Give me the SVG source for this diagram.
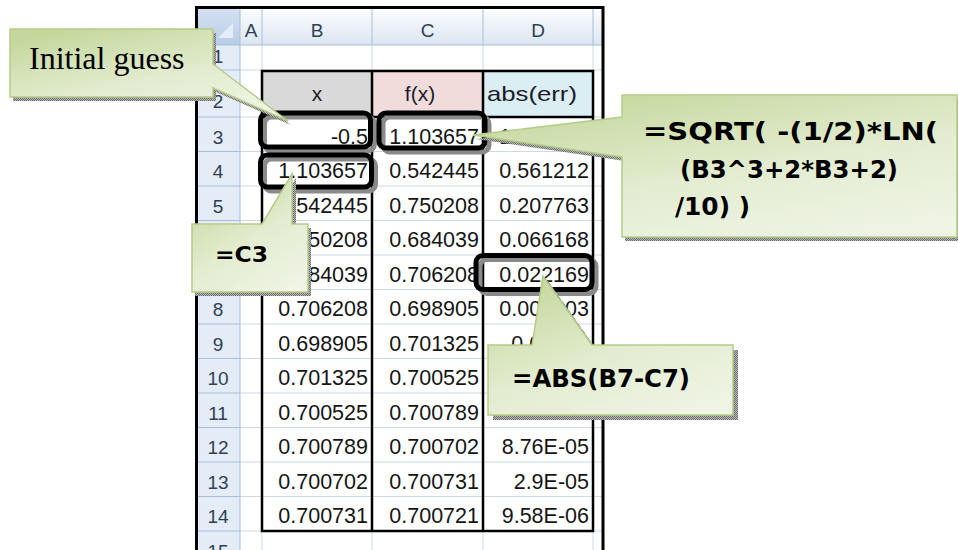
<svg xmlns="http://www.w3.org/2000/svg" width="958" height="550" viewBox="0 0 958 550">
<style>
.col{font-family:"Liberation Sans",Arial,sans-serif;font-size:19px;fill:#2f3f55;text-anchor:middle}
.rn{font-family:"Liberation Sans",Arial,sans-serif;font-size:19px;fill:#2f3f55;text-anchor:middle}
.cell{font-family:"Liberation Sans",Arial,sans-serif;font-size:21.5px;fill:#151515;text-anchor:end}
.hd{font-family:"Liberation Sans",Arial,sans-serif;font-size:21px;fill:#1d1d2b;text-anchor:middle}
.grid{stroke:#d0d7e5;stroke-width:1}
.hgrid{stroke:#a9bed8;stroke-width:1}
.hl{fill:none;stroke:#000;stroke-width:5}
.hls{fill:none;stroke:#8a8a8a;stroke-width:5}
.co{fill:url(#cg);stroke:#b5cc87;stroke-width:1.5}
.cos{fill:url(#hatch)}
.ct{font-family:"DejaVu Sans",Verdana,sans-serif;font-weight:bold;fill:#000}
</style>
<defs>
<linearGradient id="hg" x1="0" y1="0" x2="0" y2="1"><stop offset="0" stop-color="#fbfdfe"/><stop offset="1" stop-color="#dbe5f1"/></linearGradient>
<linearGradient id="cornerg" x1="0" y1="0" x2="0" y2="1"><stop offset="0" stop-color="#d3e0f1"/><stop offset="1" stop-color="#b9cce7"/></linearGradient>
<linearGradient id="cg" x1="0.2" y1="0" x2="0.8" y2="1"><stop offset="0" stop-color="#c4d79c"/><stop offset="0.55" stop-color="#e3ecd0"/><stop offset="1" stop-color="#eff4e5"/></linearGradient>
<pattern id="hatch" width="2" height="2" patternUnits="userSpaceOnUse"><rect width="2" height="2" fill="#b8b8b8"/><rect width="1" height="1" fill="#6e6e6e"/><rect x="1" y="1" width="1" height="1" fill="#6e6e6e"/></pattern>
</defs>
<rect width="958" height="550" fill="#fff"/>
<g id="sheet">
<rect x="197" y="9" width="406" height="36" fill="url(#hg)"/>
<rect x="197" y="9" width="43" height="36" fill="url(#cornerg)"/>
<polygon points="233,23 233,38 218,38" fill="#e6edf7"/>
<rect x="197" y="45" width="43" height="510" fill="#e4ecf7"/>
<g class="grid">
<line x1="262" y1="45" x2="262" y2="550"/><line x1="372" y1="45" x2="372" y2="550"/><line x1="483" y1="45" x2="483" y2="550"/><line x1="593" y1="45" x2="593" y2="550"/>
<line x1="240" y1="70" x2="603" y2="70"/><line x1="240" y1="117" x2="603" y2="117"/>
<line x1="240" y1="151.5" x2="603" y2="151.5"/><line x1="240" y1="186" x2="603" y2="186"/><line x1="240" y1="220.5" x2="603" y2="220.5"/><line x1="240" y1="255" x2="603" y2="255"/><line x1="240" y1="289.5" x2="603" y2="289.5"/><line x1="240" y1="324" x2="603" y2="324"/><line x1="240" y1="358.5" x2="603" y2="358.5"/><line x1="240" y1="393" x2="603" y2="393"/><line x1="240" y1="427.5" x2="603" y2="427.5"/><line x1="240" y1="462" x2="603" y2="462"/><line x1="240" y1="496.5" x2="603" y2="496.5"/><line x1="240" y1="531" x2="603" y2="531"/>
</g>
<g class="hgrid">
<line x1="240" y1="9" x2="240" y2="550"/><line x1="262" y1="9" x2="262" y2="45"/><line x1="372" y1="9" x2="372" y2="45"/><line x1="483" y1="9" x2="483" y2="45"/><line x1="593" y1="9" x2="593" y2="45"/>
<line x1="197" y1="45" x2="603" y2="45"/>
<line x1="197" y1="70" x2="240" y2="70"/><line x1="197" y1="117" x2="240" y2="117"/><line x1="197" y1="151.5" x2="240" y2="151.5"/><line x1="197" y1="186" x2="240" y2="186"/><line x1="197" y1="220.5" x2="240" y2="220.5"/><line x1="197" y1="255" x2="240" y2="255"/><line x1="197" y1="289.5" x2="240" y2="289.5"/><line x1="197" y1="324" x2="240" y2="324"/><line x1="197" y1="358.5" x2="240" y2="358.5"/><line x1="197" y1="393" x2="240" y2="393"/><line x1="197" y1="427.5" x2="240" y2="427.5"/><line x1="197" y1="462" x2="240" y2="462"/><line x1="197" y1="496.5" x2="240" y2="496.5"/><line x1="197" y1="531" x2="240" y2="531"/>
</g>
<text class="col" x="251" y="37">A</text><text class="col" x="317" y="37">B</text><text class="col" x="427.5" y="37">C</text><text class="col" x="538" y="37">D</text>
<text class="rn" x="218" y="63">1</text><text class="rn" x="218" y="108">2</text><text class="rn" x="218" y="143.5">3</text><text class="rn" x="218" y="178">4</text><text class="rn" x="218" y="212.5">5</text><text class="rn" x="218" y="247">6</text><text class="rn" x="218" y="281.5">7</text><text class="rn" x="218" y="316">8</text><text class="rn" x="218" y="350.5">9</text><text class="rn" x="218" y="385">10</text><text class="rn" x="218" y="419.5">11</text><text class="rn" x="218" y="454">12</text><text class="rn" x="218" y="488.5">13</text><text class="rn" x="218" y="523">14</text><text class="rn" x="218" y="558">15</text>
<rect x="262" y="71" width="110" height="46" fill="#d9d9d9"/>
<rect x="372" y="71" width="111" height="46" fill="#f2dcdb"/>
<rect x="483" y="71" width="110" height="46" fill="#daeef3"/>
<text class="hd" x="317" y="101">x</text>
<text class="hd" x="420" y="101" font-size="22">f(x)</text>
<text class="hd" x="532" y="101" textLength="90" lengthAdjust="spacingAndGlyphs">abs(err)</text>
<g>
<text class="cell" x="368" y="143.5">-0.5</text><text class="cell" x="479" y="143.5">1.103657</text><text class="cell" x="589" y="143.5">1.603657</text>
<text class="cell" x="368" y="178">1.103657</text><text class="cell" x="479" y="178">0.542445</text><text class="cell" x="589" y="178">0.561212</text>
<text class="cell" x="368" y="212.5">0.542445</text><text class="cell" x="479" y="212.5">0.750208</text><text class="cell" x="589" y="212.5">0.207763</text>
<text class="cell" x="368" y="247">0.750208</text><text class="cell" x="479" y="247">0.684039</text><text class="cell" x="589" y="247">0.066168</text>
<text class="cell" x="368" y="281.5">0.684039</text><text class="cell" x="479" y="281.5">0.706208</text><text class="cell" x="589" y="281.5">0.022169</text>
<text class="cell" x="368" y="316">0.706208</text><text class="cell" x="479" y="316">0.698905</text><text class="cell" x="589" y="316">0.007303</text>
<text class="cell" x="368" y="350.5">0.698905</text><text class="cell" x="479" y="350.5">0.701325</text><text class="cell" x="589" y="350.5">0.00242</text>
<text class="cell" x="368" y="385">0.701325</text><text class="cell" x="479" y="385">0.700525</text>
<text class="cell" x="368" y="419.5">0.700525</text><text class="cell" x="479" y="419.5">0.700789</text><text class="cell" x="589" y="419.5">0.000263</text>
<text class="cell" x="368" y="454">0.700789</text><text class="cell" x="479" y="454">0.700702</text><text class="cell" x="589" y="454">8.76E-05</text>
<text class="cell" x="368" y="488.5">0.700702</text><text class="cell" x="479" y="488.5">0.700731</text><text class="cell" x="589" y="488.5">2.9E-05</text>
<text class="cell" x="368" y="523">0.700731</text><text class="cell" x="479" y="523">0.700721</text><text class="cell" x="589" y="523">9.58E-06</text>
</g>
<g fill="none" stroke="#000" stroke-width="2.5">
<rect x="262" y="71" width="331" height="460"/>
<line x1="372" y1="71" x2="372" y2="531"/><line x1="483" y1="71" x2="483" y2="531"/>
<line x1="262" y1="117" x2="593" y2="117"/>
</g>
<path d="M196.5,560 V7.5 H603 V560" fill="none" stroke="#000" stroke-width="3"/>
</g>
<g id="connectors">
<rect class="hls" x="264.5" y="117" width="110" height="34" rx="7"/>
<rect class="hls" x="383" y="117" width="106" height="35" rx="7"/>
<rect class="hls" x="264.5" y="159" width="111" height="32" rx="7"/>
<rect class="hls" x="480" y="259.5" width="116" height="34" rx="7"/>
<rect class="hl" x="260.5" y="113" width="110" height="34" rx="7"/>
<rect class="hl" x="379" y="113" width="106" height="35" rx="7"/>
<rect class="hl" x="260.5" y="155" width="111" height="32" rx="7"/>
<rect class="hl" x="476" y="255.5" width="116" height="34" rx="7"/>
</g>
<g id="callout-initial">
<path class="cos" d="M13,33 H216 V68 L291,125 L216,92 V101 H13 Z"/>
<path class="co" d="M10,29 H213 V64 L288,121 L213,88 V97 H10 Z"/>
<text x="29" y="69" font-family="'Liberation Serif','Times New Roman',serif" font-size="32" fill="#000">Initial guess</text>
</g>
<g id="callout-sqrt">
<path class="cos" d="M625,99 H958 V241 H625 V161 L476,139 L625,121 Z"/>
<path class="co" d="M622,95 H957 V237 H622 V157 L473,135 L622,117 Z"/>
<text class="ct" x="643" y="140" font-size="25" textLength="295" lengthAdjust="spacingAndGlyphs">=SQRT( -(1/2)*LN(</text>
<text class="ct" x="680" y="178" font-size="25" textLength="218" lengthAdjust="spacingAndGlyphs">(B3^3+2*B3+2)</text>
<text class="ct" x="675" y="215" font-size="25" textLength="75" lengthAdjust="spacingAndGlyphs">/10) )</text>
</g>
<g id="callout-c3">
<path class="cos" d="M195,228 H265 L296,178 V228 H311 V296 H195 Z"/>
<path class="co" d="M192,224 H262 L292,174 V224 H308 V292 H192 Z"/>
<text class="ct" x="215" y="262" font-size="22" textLength="53" lengthAdjust="spacingAndGlyphs">=C3</text>
</g>
<g id="callout-abs">
<path class="cos" d="M493,350 H537 L548,281 L597,350 H738 V420 H493 Z"/>
<path class="co" d="M488,345 H532 L543,276 L592,345 H733 V415 H488 Z"/>
<text class="ct" x="512" y="387" font-size="24" textLength="178" lengthAdjust="spacingAndGlyphs">=ABS(B7-C7)</text>
</g>
</svg>
